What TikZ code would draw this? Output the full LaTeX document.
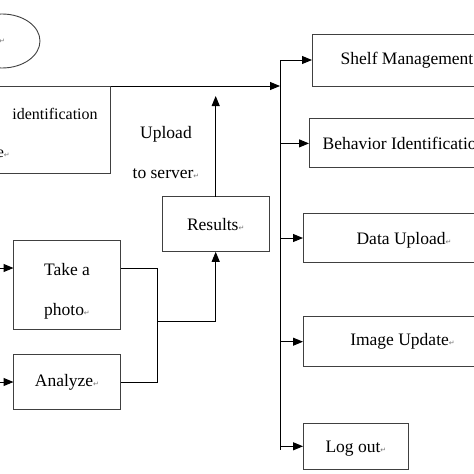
\documentclass[tikz,border=0pt]{standalone}
\usepackage{fontspec}
\setmainfont{Liberation Serif}
\newfontfamily\dejavu{DejaVu Sans}
\usetikzlibrary{arrows.meta,shapes.geometric}
\newcommand{\retmark}{{\dejavu\fontsize{7}{7}\selectfont\color{black!55}↵}}
\begin{document}
\begin{tikzpicture}[x=1pt,y=-1pt,>={Triangle[length=10pt,width=8pt]},
 khung/.style={draw=black!75,line width=0.9pt,inner sep=0pt,outer sep=0pt,font=\fontsize{17.5}{40}\selectfont,align=center},
 chu/.style={inner sep=0pt,font=\fontsize{17.5}{40}\selectfont,align=center},
 noi/.style={line width=1pt}]
\useasboundingbox (0,0) rectangle (474,474);
\clip (0,0) rectangle (474,474);
% Vẽ các khung bên trái
\node[ellipse,draw=black!75,line width=0.9pt,minimum width=76pt,minimum height=54pt,inner sep=0pt] (batdau) at (2,41) {\retmark};
\node[khung,minimum width=210pt,minimum height=87pt] (nhandang) at (5.5,129.5) {};
\node[chu,font=\fontsize{16}{20}\selectfont] (nhandang1) at (55,114) {identification};
\node[chu,font=\fontsize{16}{20}\selectfont,anchor=east] (nhandang2) at (10,154) {e\retmark};
\node[khung,minimum width=107pt,minimum height=89pt] (chupanh) at (67,284.5) {\rule{0pt}{25pt}Take a\\photo\retmark};
\node[khung,minimum width=107pt,minimum height=55pt] (phantich) at (67,382) {Analyze\retmark};
\node[khung,minimum width=107pt,minimum height=55pt] (ketqua) at (215.7,224.3) {Results\retmark};
\node[chu] (tailen) at (166,153) {Upload\\to server\retmark};
% Vẽ các khung chức năng bên phải
\node[khung,minimum width=190pt,minimum height=52pt] (ke) at (407,60) {Shelf Management};
\node[khung,minimum width=190pt,minimum height=49pt] (hanhvi) at (404,143.4) {Behavior Identification};
\node[khung,minimum width=202pt,minimum height=49.4pt,text depth=0pt] (dulieu) at (404,238) {Data Upload\retmark};
\node[khung,minimum width=199pt,minimum height=50pt] (hinhanh) at (402.5,341.7) {Image Update\retmark};
\node[khung,minimum width=105.7pt,minimum height=46pt,text depth=0pt] (dangxuat) at (355.9,446.3) {Log out\retmark};
% Trục dọc và các mũi tên
\coordinate (truc1) at (280,60);
\coordinate (truc2) at (280,450);
\draw[noi] (truc1) -- (truc2);
\foreach \o/\d in {ke/0,hanhvi/-1.6,dulieu/7.3,hinhanh/0,dangxuat/-3.7}
\draw[noi,->,yshift=\d pt] (truc1 |- \o.west) -- (\o.west);
\draw[noi,->,yshift=-10pt] (nhandang.north east) -- (nhandang.north east -| truc1);
\draw[noi,->] (ketqua.north) -- (ketqua.north |- 0,96);
% Nối ảnh và phân tích vào kết quả
\coordinate (gop) at (157,321);
\draw[noi] ([yshift=16.5pt]chupanh.east) -| (gop |- phantich.east) -- (phantich.east);
\draw[noi,->] (gop) -| (ketqua.south);
\draw[noi,<-] ([yshift=16.5pt]chupanh.west) -- ++(-20,0);
\draw[noi,<-] (phantich.west) -- ++(-20,0);
\end{tikzpicture}
\end{document}
